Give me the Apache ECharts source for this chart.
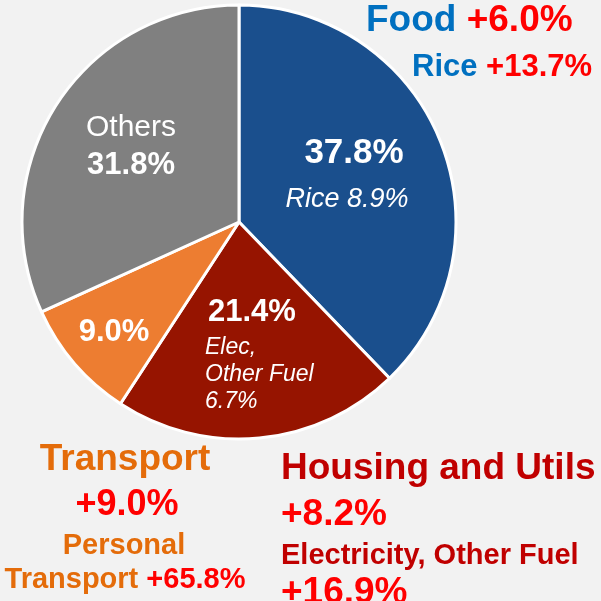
<!DOCTYPE html>
<html>
<head>
	<title>CPI weights</title>
	<meta charset="utf-8" />
	<script type="text/javascript" src="https://cdn.jsdelivr.net/npm/echarts@6/dist/echarts.min.js"></script>
	<style type="text/css">
		html, body{ margin:0; padding:0; background:#f2f2f2; }
		#container{ width:601px; height:601px; }
	</style>
</head>
<body>
<div id="container"></div>
<script type="text/javascript">
	// data
	var categories = ['Food', 'Housing and Utils', 'Transport', 'Others'];
	var shares = [37.8, 21.4, 9.0, 31.8];              // weight in basket, %
	var changes = ['+6.0%', '+8.2%', '+9.0%', ''];     // yoy change
	var subNames = ['Rice', 'Electricity, Other Fuel', 'Personal Transport', ''];
	var subShortNames = ['Rice', 'Elec,\nOther Fuel', '', ''];
	var subShares = [8.9, 6.7, null, null];
	var subChanges = ['+13.7%', '+16.9%', '+65.8%', ''];

	var colors = ['#1a4f8d', '#961400', '#ed7d31', '#808080'];
	var FONT = "'Liberation Sans', Arial, sans-serif";

	function pct(v){ return v.toFixed(1) + '%'; }

	function txt(x, y, text, size, opts){
		opts = opts || {};
		return {
			type:'text', x:x, y:y, z:100, silent:true,
			style:{
				text:text,
				fontFamily:FONT,
				fontSize:size,
				fontWeight:opts.weight || 'bold',
				fontStyle:opts.style || 'normal',
				fill:opts.fill || '#fff',
				align:opts.align || 'center',
				verticalAlign:'middle',
				lineHeight:opts.lineHeight,
				rich:opts.rich
			}
		};
	}

	var chart = echarts.init(document.getElementById('container'));

	var graphics = [
		// Food
		txt(366, 21, '{a|' + categories[0] + '} {b|' + changes[0] + '}', 37, {align:'left', rich:{
			a:{fill:'#0070c0', fontSize:37, fontWeight:'bold', fontFamily:FONT},
			b:{fill:'#ff0000', fontSize:37, fontWeight:'bold', fontFamily:FONT}
		}}),
		txt(412, 67, '{a|' + subNames[0] + '} {b|' + subChanges[0] + '}', 31, {align:'left', rich:{
			a:{fill:'#0070c0', fontSize:31, fontWeight:'bold', fontFamily:FONT},
			b:{fill:'#ff0000', fontSize:31, fontWeight:'bold', fontFamily:FONT}
		}}),
		txt(354, 153, pct(shares[0]), 35),
		txt(347, 199, subShortNames[0] + ' ' + pct(subShares[0]), 27, {weight:'normal', style:'italic'}),

		// Housing
		txt(208, 312, pct(shares[1]), 31, {align:'left'}),
		txt(205, 375, subShortNames[1] + '\n' + pct(subShares[1]), 23, {align:'left', weight:'normal', style:'italic', lineHeight:27}),
		txt(281, 469, categories[1], 37, {align:'left', fill:'#c00000'}),
		txt(281, 515, changes[1], 37, {align:'left', fill:'#ff0000'}),
		txt(281, 556, subNames[1], 29, {align:'left', fill:'#c00000'}),
		txt(281, 593, subChanges[1], 37, {align:'left', fill:'#ff0000'}),

		// Transport
		txt(114, 332, pct(shares[2]), 31),
		txt(125, 460, categories[2], 37, {fill:'#e46c0a'}),
		txt(127, 505, changes[2], 36, {fill:'#ff0000'}),
		txt(124, 546, subNames[2].split(' ')[0], 29, {fill:'#e46c0a'}),
		txt(125, 580, '{a|' + subNames[2].split(' ')[1] + '} {b|' + subChanges[2] + '}', 29, {rich:{
			a:{fill:'#e46c0a', fontSize:29, fontWeight:'bold', fontFamily:FONT},
			b:{fill:'#ff0000', fontSize:29, fontWeight:'bold', fontFamily:FONT}
		}}),

		// Others
		txt(131, 128, categories[3], 30, {weight:'normal'}),
		txt(131, 165, pct(shares[3]), 31)
	];

	var options = {
		backgroundColor:'#f2f2f2',
		animation:false,
		color:colors,
		series:[{
			type:'pie',
			center:[239, 222],
			radius:[0, 217],
			startAngle:90,
			clockwise:true,
			label:{show:false},
			labelLine:{show:false},
			itemStyle:{borderColor:'#fff', borderWidth:3},
			data:categories.map(function(c, i){ return {name:c, value:shares[i]}; })
		}],
		graphic:graphics
	};

	chart.setOption(options);
</script>
</body>
</html>
